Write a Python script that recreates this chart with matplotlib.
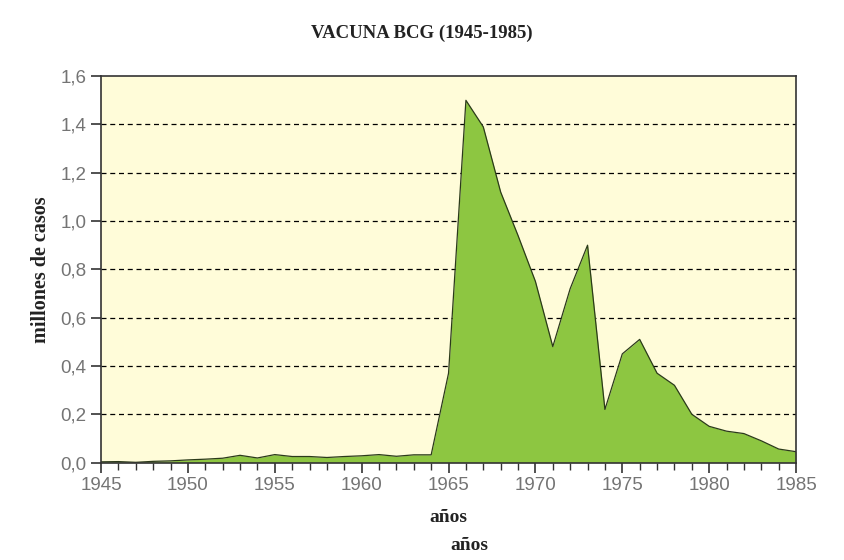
import matplotlib
matplotlib.use("Agg")
import matplotlib.pyplot as plt
from matplotlib.ticker import FuncFormatter, MultipleLocator

# casos por año (millones)
years = list(range(1945, 1986))
cases = [0.003, 0.004, 0.001, 0.005, 0.007, 0.011, 0.014, 0.018, 0.030, 0.019,
         0.033, 0.025, 0.025, 0.021, 0.025, 0.028, 0.033, 0.026, 0.032, 0.032,
         0.37, 1.50, 1.39, 1.12, 0.94, 0.75, 0.48, 0.72, 0.90, 0.22,
         0.45, 0.51, 0.37, 0.32, 0.20, 0.15, 0.13, 0.12, 0.09, 0.056,
         0.045]

yticks = [0.0, 0.2, 0.4, 0.6, 0.8, 1.0, 1.2, 1.4, 1.6]
xticks = [1945, 1950, 1955, 1960, 1965, 1970, 1975, 1980, 1985]

serif = ["Liberation Serif", "DejaVu Serif"]
sans = ["Liberation Sans", "DejaVu Sans"]

fig = plt.figure(figsize=(8.44, 5.60), dpi=100)
ax = fig.add_axes([0.1197, 0.174, 0.8235, 0.690])
ax.set_facecolor("#fffcd9")

ax.fill_between(years, cases, 0, color="#8dc641", linewidth=0, zorder=2)
ax.plot(years, cases, color="#2b3a1a", linewidth=0.9, zorder=3)

ax.set_xlim(1945, 1985)
ax.set_ylim(0, 1.6)
ax.set_xticks(xticks)
ax.xaxis.set_minor_locator(MultipleLocator(1))
ax.set_yticks(yticks)
ax.yaxis.set_major_formatter(FuncFormatter(lambda v, p: f"{v:.1f}".replace(".", ",")))

for y in yticks[1:-1]:
    ax.axhline(y, color="black", linestyle=(0, (4, 3)), linewidth=0.9, zorder=1)

for s in ax.spines.values():
    s.set_color("#333333")
    s.set_linewidth(1.2)
    s.set_zorder(4)

ax.tick_params(axis="both", which="major", direction="out", length=7, width=1.2,
               color="#333333", labelcolor="#747474", labelsize=13.5)
ax.tick_params(axis="x", which="minor", direction="out", length=5, width=1.0, color="#333333")
for lab in ax.get_xticklabels() + ax.get_yticklabels():
    lab.set_family(sans)

ax.set_ylabel("millones de casos", family=serif, fontsize=14.5, fontweight="bold",
              color="#222222", labelpad=7)
ax.set_xlabel("años", family=serif, fontsize=14, fontweight="bold", color="#222222",
              labelpad=11)
fig.text(0.556, 0.025, "años", ha="center", va="center", family=serif, fontsize=14,
         fontweight="bold", color="#222222")
fig.text(0.5, 0.941, "VACUNA BCG (1945-1985)", ha="center", va="center", family=serif,
         fontsize=13.5, fontweight="bold", color="#222222")

fig.savefig("out.png", dpi=100)
